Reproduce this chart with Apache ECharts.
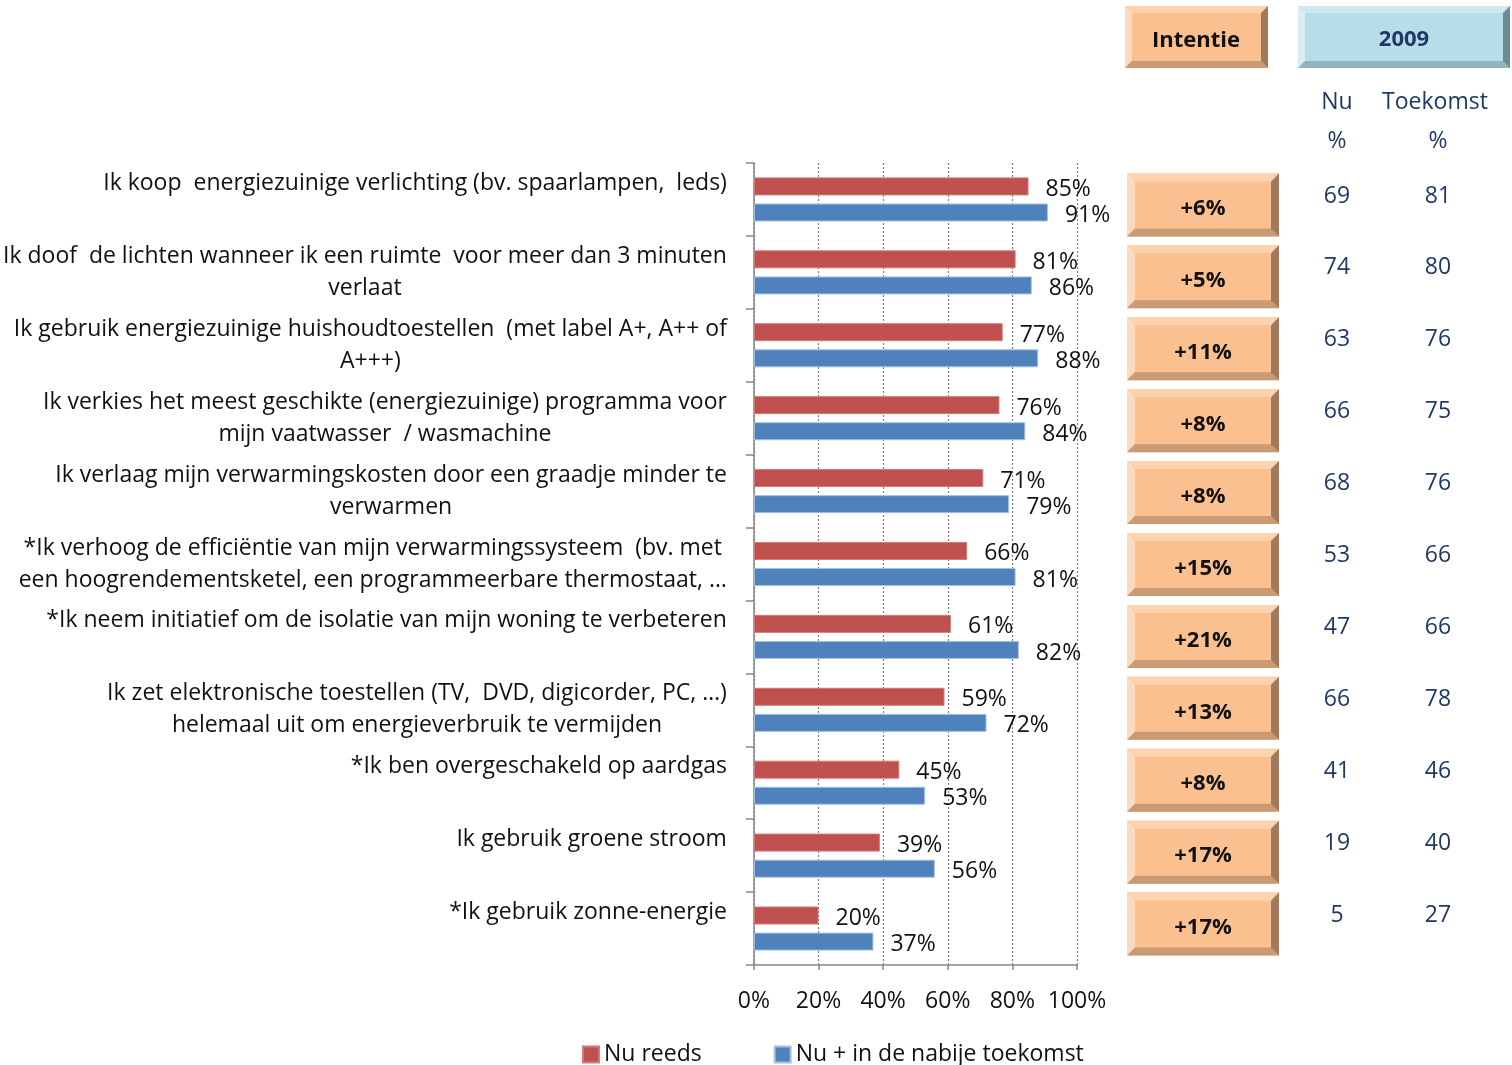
<!DOCTYPE html>
<html>
<head>
<meta charset="utf-8">
<script src="https://cdn.jsdelivr.net/npm/echarts@6/dist/echarts.min.js"></script>
<style>
html,body{margin:0;padding:0;background:#fff;}
#chart{width:1512px;height:1065px;}
</style>
</head>
<body>
<div id="chart"></div>
<script>
const categories = [
  'Ik koop  energiezuinige verlichting (bv. spaarlampen,  leds)',
  'Ik doof  de lichten wanneer ik een ruimte  voor meer dan 3 minuten\nverlaat',
  'Ik gebruik energiezuinige huishoudtoestellen  (met label A+, A++ of\nA+++)',
  'Ik verkies het meest geschikte (energiezuinige) programma voor\nmijn vaatwasser  / wasmachine',
  'Ik verlaag mijn verwarmingskosten door een graadje minder te\nverwarmen',
  '*Ik verhoog de efficiëntie van mijn verwarmingssysteem  (bv. met\neen hoogrendementsketel, een programmeerbare thermostaat, …',
  '*Ik neem initiatief om de isolatie van mijn woning te verbeteren',
  'Ik zet elektronische toestellen (TV,  DVD, digicorder, PC, …)\nhelemaal uit om energieverbruik te vermijden',
  '*Ik ben overgeschakeld op aardgas',
  'Ik gebruik groene stroom',
  '*Ik gebruik zonne-energie'
];
const nuReeds = [85, 81, 77, 76, 71, 66, 61, 59, 45, 39, 20];
const nuToekomst = [91, 86, 88, 84, 79, 81, 82, 72, 53, 56, 37];
const intentie = ['+6%', '+5%', '+11%', '+8%', '+8%', '+15%', '+21%', '+13%', '+8%', '+17%', '+17%'];
const nu2009 = [69, 74, 63, 66, 68, 53, 47, 66, 41, 19, 5];
const toekomst2009 = [81, 80, 76, 75, 76, 66, 66, 78, 46, 40, 27];
const xTicks = [0, 20, 40, 60, 80, 100];
const seriesNames = ['Nu reeds', 'Nu + in de nabije toekomst'];

const FONT = '"Open Sans", Lato, sans-serif';
const FS = 23;
const FSB = 22;
const NAVY = '#1f3864';

function bevelBox(x, y, w, h, b, c) {
  return [
    {type:'rect', shape:{x:x, y:y, width:w, height:h}, style:{fill:c.face}},
    {type:'polygon', shape:{points:[[x,y],[x+w,y],[x+w-b,y+b],[x+b,y+b]]}, style:{fill:c.top}},
    {type:'polygon', shape:{points:[[x,y],[x+b,y+b],[x+b,y+h-b],[x,y+h]]}, style:{fill:c.left}},
    {type:'polygon', shape:{points:[[x,y+h],[x+b,y+h-b],[x+w-b,y+h-b],[x+w,y+h]]}, style:{fill:c.bottom}},
    {type:'polygon', shape:{points:[[x+w,y],[x+w,y+h],[x+w-b,y+h-b],[x+w-b,y+b]]}, style:{fill:c.right}}
  ];
}
const ORANGE = {face:'#fac090', top:'#fcd3ae', left:'#fddabd', bottom:'#c99a74', right:'#a27a5b'};
const BLUE = {face:'#b7dde8', top:'#cde8f0', left:'#d8eef4', bottom:'#93b2bb', right:'#6d8a92'};

const chart = echarts.init(document.getElementById('chart'));

const headerGraphics = [
  {type:'group', children: bevelBox(1125, 6, 143, 62, 7, ORANGE).concat([
    {type:'text', style:{x:1196, y:41, text:'Intentie', fill:'#111', font:'bold ' + FSB + 'px ' + FONT, align:'center', verticalAlign:'middle'}}
  ])},
  {type:'group', children: bevelBox(1298, 6, 212, 62, 7, BLUE).concat([
    {type:'text', style:{x:1404, y:40, text:'2009', fill:NAVY, font:'bold ' + FSB + 'px ' + FONT, align:'center', verticalAlign:'middle'}}
  ])},
  {type:'text', style:{x:1337, y:102, text:'Nu', fill:NAVY, font:FS + 'px ' + FONT, align:'center', verticalAlign:'middle'}},
  {type:'text', style:{x:1337, y:141, text:'%', fill:NAVY, font:FS + 'px ' + FONT, align:'center', verticalAlign:'middle'}},
  {type:'text', style:{x:1435, y:102, text:'Toekomst', fill:NAVY, font:FS + 'px ' + FONT, align:'center', verticalAlign:'middle'}},
  {type:'text', style:{x:1438, y:141, text:'%', fill:NAVY, font:FS + 'px ' + FONT, align:'center', verticalAlign:'middle'}}
];

const option = {
  animation: false,
  textStyle: {fontFamily: FONT},
  graphic: headerGraphics,
  legend: {
    data: seriesNames,
    left: 577, top: 1038,
    itemWidth: 16, itemHeight: 16, itemGap: 72,
    icon: 'rect',
    textStyle: {fontSize: FS, color: '#111', fontFamily: FONT}
  },
  grid: [
    {left: 752, right: 435, top: 163, bottom: 100},
    {left: 1120, right: 0, top: 169, bottom: 105}
  ],
  xAxis: [
    {
      type: 'value', gridIndex: 0, min: 0, max: 100, interval: 20,
      axisLine: {show: true, lineStyle: {color: '#868686', width: 1.5}},
      axisTick: {show: true, length: 5, lineStyle: {color: '#868686', width: 1.5}},
      axisLabel: {formatter: v => v + '%', fontSize: FS, color: '#111', margin: 25, fontFamily: FONT},
      splitLine: {show: true, lineStyle: {type: [2, 2], color: '#7f7f7f', width: 1.2}}
    },
    {type: 'value', gridIndex: 1, min: 0, max: 392, show: false}
  ],
  yAxis: [
    {
      type: 'category', gridIndex: 0, data: categories, inverse: true,
      axisLine: {show: true, lineStyle: {color: '#868686', width: 1.5}},
      axisTick: {show: true, length: 8, inside: false, lineStyle: {color: '#868686', width: 1.5}},
      axisLabel: {
        interval: 0, margin: 27,
        formatter: v => '{c|' + (v.indexOf('\n') < 0 ? v + '\n ' : v) + '}',
        rich: {c: {align: 'center', fontSize: FS, lineHeight: 32, color: '#111', fontFamily: FONT}}
      },
      splitLine: {show: false}
    },
    {type: 'category', gridIndex: 1, data: categories, inverse: true, show: false}
  ],
  series: [
    {
      name: seriesNames[0], type: 'bar', xAxisIndex: 0, yAxisIndex: 0,
      data: nuReeds, barWidth: 18, barGap: '45%',
      itemStyle: {color: '#c0504d', borderColor: '#d07b79', borderWidth: 1},
      label: {show: true, position: 'right', distance: 17, offset: [0, 3], formatter: '{c}%', fontSize: FS, color: '#111', fontFamily: FONT}
    },
    {
      name: seriesNames[1], type: 'bar', xAxisIndex: 0, yAxisIndex: 0,
      data: nuToekomst, barWidth: 18,
      itemStyle: {color: '#4f81bd', borderColor: '#a7c0de', borderWidth: 1},
      label: {show: true, position: 'right', distance: 17, offset: [0, 3], formatter: '{c}%', fontSize: FS, color: '#111', fontFamily: FONT}
    },
    {
      type: 'custom', xAxisIndex: 1, yAxisIndex: 1,
      data: intentie.map((t, i) => [i, t]),
      renderItem: function (params, api) {
        const i = api.value(0);
        const cy = api.coord([0, i])[1];
        const x = api.coord([7, i])[0];
        const w = 152, h = 63;
        const y = cy - h / 2;
        const children = bevelBox(x, y, w, h, 8, ORANGE);
        children.push({type:'text', style:{x: x + w / 2, y: cy + 4, text: intentie[i], fill:'#111', font:'bold ' + FSB + 'px ' + FONT, align:'center', verticalAlign:'middle'}});
        return {type:'group', children: children};
      }
    },
    {
      type: 'custom', xAxisIndex: 1, yAxisIndex: 1,
      data: nu2009.map((v, i) => [i, v]),
      renderItem: function (params, api) {
        const i = api.value(0);
        const p = api.coord([217, i]);
        return {type:'text', style:{x: p[0], y: p[1] - 9, text: String(api.value(1)), fill: NAVY, font: FS + 'px ' + FONT, align:'center', verticalAlign:'middle'}};
      }
    },
    {
      type: 'custom', xAxisIndex: 1, yAxisIndex: 1,
      data: toekomst2009.map((v, i) => [i, v]),
      renderItem: function (params, api) {
        const i = api.value(0);
        const p = api.coord([318, i]);
        return {type:'text', style:{x: p[0], y: p[1] - 9, text: String(api.value(1)), fill: NAVY, font: FS + 'px ' + FONT, align:'center', verticalAlign:'middle'}};
      }
    }
  ]
};
chart.setOption(option);
</script>
</body>
</html>
